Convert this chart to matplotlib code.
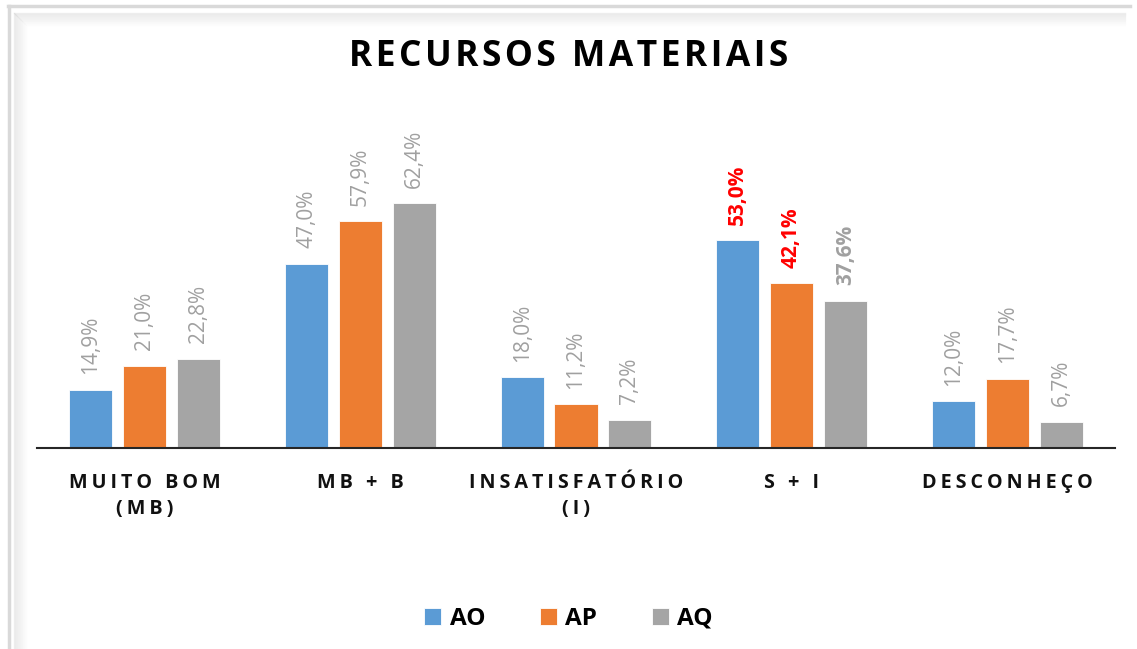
import matplotlib
matplotlib.use("Agg")
import matplotlib.pyplot as plt
import numpy as np
from matplotlib.lines import Line2D

CATEGORIES = ["MUITO BOM\n(MB)", "MB + B", "INSATISFATÓRIO\n(I)", "S + I", "DESCONHEÇO"]
SERIES = ["AO", "AP", "AQ"]
AO = [14.9, 47.0, 18.0, 53.0, 12.0]
AP = [21.0, 57.9, 11.2, 42.1, 17.7]
AQ = [22.8, 62.4, 7.2, 37.6, 6.7]
COLORS = ["#5B9BD5", "#ED7D31", "#A5A5A5"]

FONT = ["Open Sans", "DejaVu Sans"]
plt.rcParams["font.family"] = FONT
HAIR = "\u200a"
THIN = "\u2009"


def spaced(s, sep):
    # fake letter spacing, line by line
    return "\n".join(sep.join(line) for line in s.split("\n"))


def pct(v):
    return f"{v:.1f}%".replace(".", ",")


fig = plt.figure(figsize=(11.37, 6.49), dpi=100)
W, H = 1137, 649

# frame with soft shadow on the top/left edges
fig.add_artist(Line2D([8 / W, 1130 / W], [1 - 6 / H, 1 - 6 / H], color="#d9d9d9", lw=2.5))
fig.add_artist(Line2D([9 / W, 9 / W], [0, 1 - 6 / H], color="#d9d9d9", lw=2.5))
for k in range(14):
    a = 0.06 * (1 - k / 14)
    fig.add_artist(Line2D([(14 + k) / W, 1125 / W], [1 - (13 + k) / H] * 2, color="black", alpha=a, lw=1))
    fig.add_artist(Line2D([(14 + k) / W] * 2, [0, 1 - (13 + k) / H], color="black", alpha=a, lw=1))

ax = fig.add_axes([37 / W, 1 - 448 / H, (1115 - 37) / W, (448 - 95) / H])
x = np.arange(len(CATEGORIES))
data = [AO, AP, AQ]
offsets = [-0.25, 0.0, 0.25]
for vals, off, col, name in zip(data, offsets, COLORS, SERIES):
    bars = ax.bar(x + off, vals, width=0.2, color=col, edgecolor="white", linewidth=0.6, label=name)
    for i, (b, v) in enumerate(zip(bars, vals)):
        if CATEGORIES[i] == "S + I":
            c = "#FF0000" if name != "AQ" else "#A0A0A0"
            w = "bold"
        else:
            c = "#A0A0A0"
            w = "normal"
        ax.annotate(pct(v), (b.get_x() + b.get_width() / 2, v), xytext=(0, 11),
                    textcoords="offset points", rotation=90, ha="center", va="bottom",
                    fontsize=15, color=c, fontweight=w)

ax.set_xlim(-0.5, len(CATEGORIES) - 0.5)
ax.set_ylim(0, 90)
ax.set_yticks([])
for s in ["top", "right", "left"]:
    ax.spines[s].set_visible(False)
ax.spines["bottom"].set_color("#262626")
ax.spines["bottom"].set_linewidth(1.5)
ax.set_xticks(x)
ax.set_xticklabels([spaced(c, THIN) for c in CATEGORIES], fontsize=14.2, fontweight="bold",
                   color="#111111", linespacing=1.38)
ax.tick_params(axis="x", length=0, pad=18)

fig.text(0.5, 1 - 57 / H, spaced("RECURSOS MATERIAIS", HAIR), ha="center", va="center",
         fontsize=25.5, fontweight="bold", color="black")

leg = fig.legend(loc="center", bbox_to_anchor=(0.5, 1 - 619 / H), ncol=3, frameon=False,
                 handlelength=0.7, handleheight=0.7, handletextpad=0.35, columnspacing=2.25,
                 prop={"family": FONT, "weight": "bold", "size": 17.5})

fig.savefig("out.png", dpi=100)
